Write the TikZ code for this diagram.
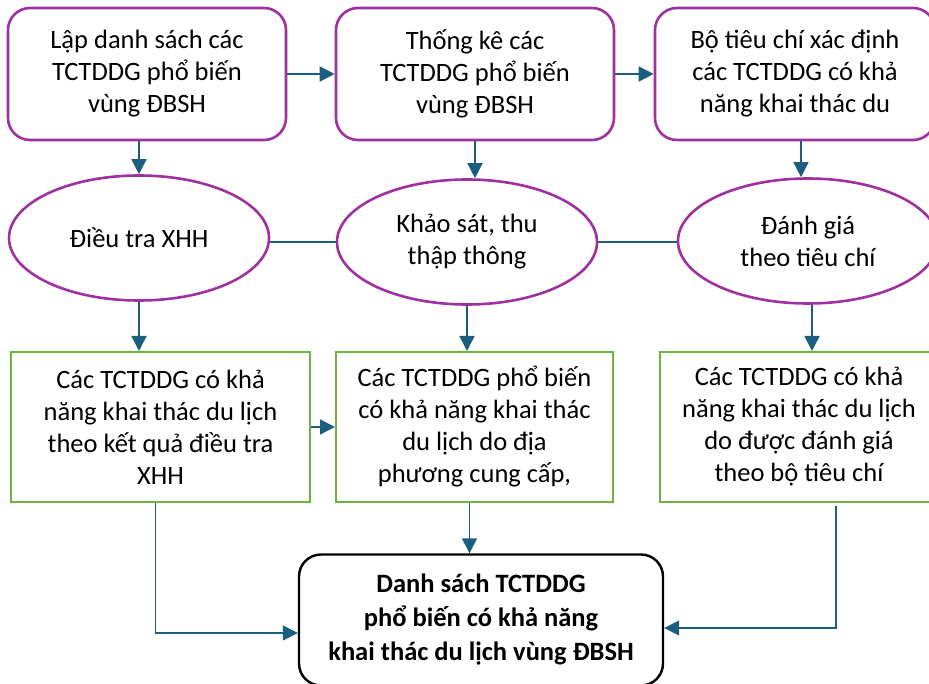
\documentclass[tikz,border=0pt]{standalone}
\usepackage{fontspec}
\setmainfont{Carlito}
\usetikzlibrary{arrows.meta,shapes.geometric}
\definecolor{boxpurple}{RGB}{160,48,160}
\definecolor{boxgreen}{RGB}{110,180,64}
\definecolor{linkblue}{RGB}{27,94,128}
\tikzset{
	every node/.style={font=\fontsize{26.5}{32}\selectfont,align=center,inner sep=0pt},
	stepbox/.style={draw=boxpurple,line width=2.6pt,rounded corners=22pt,minimum width=278pt,minimum height=132pt},
	taskoval/.style={ellipse,draw=boxpurple,line width=2.6pt,minimum width=260pt,minimum height=125pt},
	resultbox/.style={draw=boxgreen,line width=2pt,minimum height=150pt},
	finalbox/.style={draw=black,line width=2.4pt,rounded corners=22pt,minimum width=364pt,minimum height=131pt,font=\fontsize{26.5}{34}\selectfont\bfseries},
	link/.style={draw=linkblue,line width=1.5pt,-{Triangle[length=15pt,width=15pt]}},
	joinline/.style={draw=linkblue,line width=1.5pt}
}

\begin{document}
\begin{tikzpicture}[x=1pt,y=-1pt]
		\useasboundingbox (0,0) rectangle (929,684);
		% top row
		\node[stepbox] (b1) at (147,74) {Lập danh sách các\\TCTDDG phổ biến\\vùng ĐBSH};
		\node[stepbox] (b2) at (475,74) {Thống kê các\\TCTDDG phổ biến\\vùng ĐBSH};
		\node[stepbox,minimum width=280pt] (b3) at (795,74) {Bộ tiêu chí xác định\\các TCTDDG có khả\\năng khai thác du};

		% middle row
		\node[taskoval] (e1) at (139,238) {Điều tra XHH};
		\node[taskoval] (e2) at (467,242) {Khảo sát, thu\\thập thông};
		\node[taskoval] (e3) at (808,241) {Đánh giá\\theo tiêu chí};

		% results
		\node[resultbox,minimum width=299pt] (g1) at (160.5,427) {Các TCTDDG có khả\\năng khai thác du lịch\\theo kết quả điều tra\\XHH};
		\node[resultbox,minimum width=277pt] (g2) at (474.5,427) {Các TCTDDG phổ biến\\có khả năng khai thác\\du lịch do địa\\phương cung cấp,};
		\node[resultbox,minimum width=278pt] (g3) at (799,427) {Các TCTDDG có khả\\năng khai thác du lịch\\do được đánh giá\\theo bộ tiêu chí};

		\node[finalbox] (fin) at (481,620) {Danh sách TCTDDG\\phổ biến có khả năng\\khai thác du lịch vùng ĐBSH};

		\draw[link] (b1) -- (b2);
		\draw[link] (b2) -- (b3);
		\draw[link] (e1 |- b1.south) -- (e1.north);
		\draw[link] (b2.south) -- (b2.south |- e2.north);
		\draw[link] ([xshift=6pt]b3.south) -- ([xshift=6pt]b3.south |- e3.north);

		\draw[joinline] (e2.west -| e1.east) -- (e2.west);
		\draw[joinline] (e2.east) -- (e2.east -| e3.west);

		\draw[link] (e1.south) -- (e1.south |- g1.north);
		\draw[link] (e2.south) -- (e2.south |- g2.north);
		\draw[link] ([xshift=4pt]e3.south) -- ([xshift=4pt]e3.south |- g3.north);
		\draw[link] (g1) -- (g2);

		\draw[link] ([xshift=-5pt]g2.south) -- ([xshift=-5pt]g2.south |- fin.north);
		\draw[link] ([xshift=-5pt]g1.south) |- ([yshift=-13pt]fin.west);
		\draw[link] ([xshift=37pt,yshift=-3pt]g3.south) |- ([yshift=-8pt]fin.east);
	\end{tikzpicture}
\end{document}
